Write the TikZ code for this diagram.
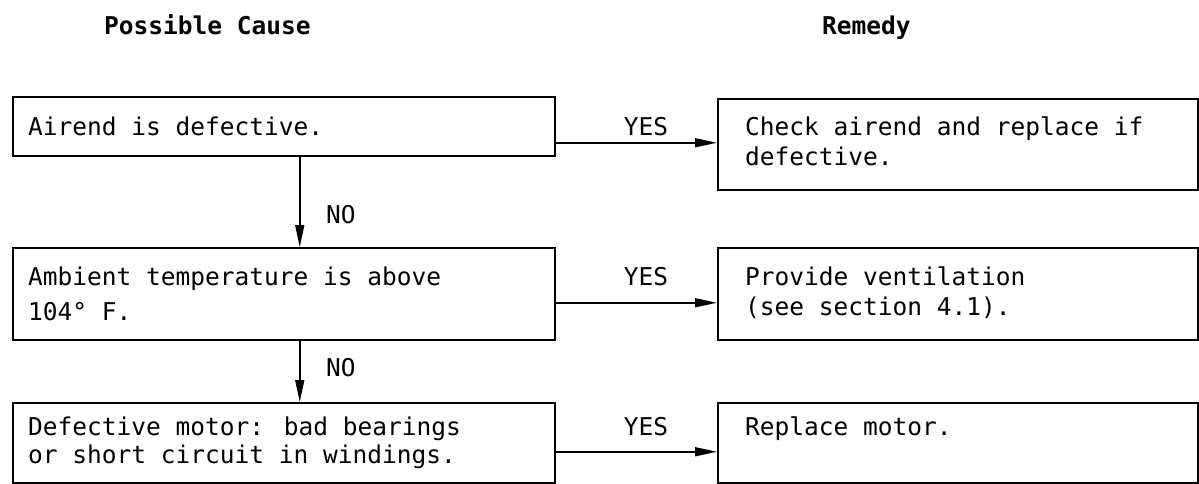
\documentclass[tikz,border=0pt]{standalone}
\usepackage{fontspec}
\setmainfont{DejaVu Sans Mono}
\usetikzlibrary{arrows.meta}
\begin{document}
\begin{tikzpicture}[x=1pt,y=-1pt,
  box/.style={draw, line width=1.5pt, rectangle, inner sep=0pt, anchor=north west},
  txt/.style={anchor=base west, inner sep=0pt, font=\fontsize{24.5}{29}\selectfont},
  lbl/.style={anchor=base, inner sep=0pt, font=\fontsize{24.5}{29}\selectfont},
  hdr/.style={anchor=base west, inner sep=0pt, font=\fontsize{24.5}{29}\selectfont\bfseries},
  conn/.style={line width=1.5pt, -{Triangle[length=22pt,width=9pt]}}]
\useasboundingbox (0,0) rectangle (1199,483);

% headers
\node[hdr] (h1) at (104,34) {Possible Cause};
\node[hdr] (h2) at (822,34) {Remedy};

% cause boxes
\node[box, minimum width=542pt, minimum height=59pt] (l1) at (12,96) {};
\node[box, minimum width=542pt, minimum height=92pt] (l2) at (12,247) {};
\node[box, minimum width=542pt, minimum height=80pt] (l3) at (12,402) {};

% remedy boxes
\node[box, minimum width=480pt, minimum height=91pt] (r1) at (717,98) {};
\node[box, minimum width=480pt, minimum height=92pt] (r2) at (717,247) {};
\node[box, minimum width=480pt, minimum height=80pt] (r3) at (717,402) {};

% texts
\node[txt] (t1) at (28,135) {Airend is defective.};
\node[txt] (t2a) at (28,285) {Ambient temperature is above};
\node[txt] (t2b) at (28,320) {104° F.};
\node[txt] (t3a) at (28,435) {Defective motor: bad bearings};
\node[txt] (t3b) at (28,463) {or short circuit in windings.};

\node[txt] (s1a) at (745,135) {Check airend and replace if};
\node[txt] (s1b) at (745,165) {defective.};
\node[txt] (s2a) at (745,285) {Provide ventilation};
\node[txt] (s2b) at (745,315) {(see section 4.1).};
\node[txt] (s3a) at (745,435) {Replace motor.};

% connectors
\draw[conn] ([yshift=-16.5pt]l1.east) -- ([yshift=-16.5pt]l1.east -| r1.west);
\draw[conn] ([yshift=-9pt]l2.east) -- ([yshift=-9pt]r2.west);
\draw[conn] ([yshift=-9pt]l3.east) -- ([yshift=-9pt]r3.west);
\draw[conn] ([xshift=16pt]l1.south) -- ([xshift=16pt]l2.north);
\draw[conn] ([xshift=16pt]l2.south) -- ([xshift=16pt]l3.north);

% labels
\node[lbl] (y1) at (646,135) {YES};
\node[lbl] (y2) at (646,285) {YES};
\node[lbl] (y3) at (646,435) {YES};
\node[txt] (n1) at (326,223) {NO};
\node[txt] (n2) at (326,376) {NO};
\end{tikzpicture}
\end{document}
